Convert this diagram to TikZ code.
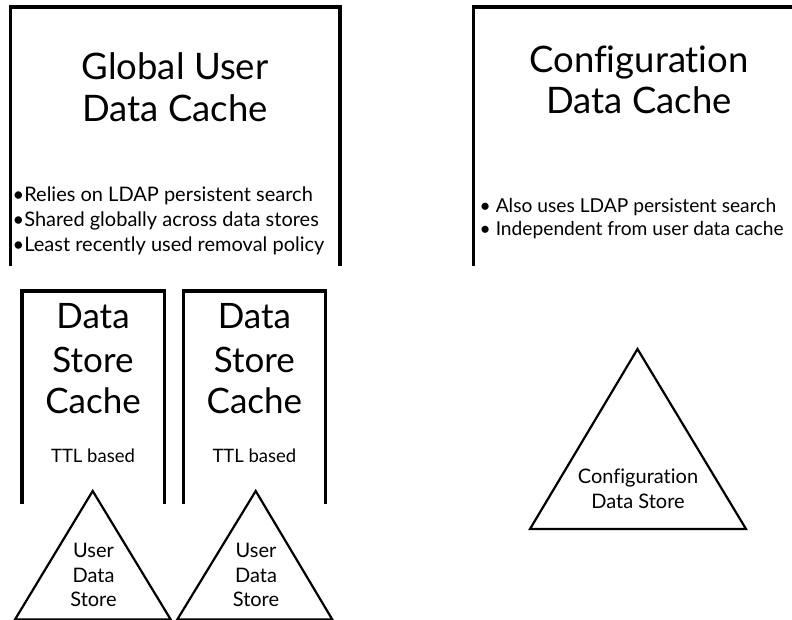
\documentclass[tikz,border=0pt]{standalone}
\usepackage{fontspec}
\setmainfont[Ligatures=NoCommon]{Lato}
\begin{document}
\begin{tikzpicture}[x=1pt,y=-1pt,
  box/.style={line width=3.6pt,line join=miter},
  tri/.style={line width=2.2pt,line join=miter},
  bigtitle/.style={font=\fontsize{36.5}{42}\selectfont,anchor=base,inner sep=0pt},
  dsc/.style={font=\fontsize{35}{43}\selectfont,anchor=base,inner sep=0pt},
  ttl/.style={font=\fontsize{18.5}{24}\selectfont,anchor=base,inner sep=0pt},
  bul/.style={font=\fontsize{20}{25}\selectfont,anchor=base west,inner sep=0pt},
  cbul/.style={bul,font=\fontsize{19.2}{25}\selectfont},
  trilabel/.style={font=\fontsize{20}{25}\selectfont,anchor=base,inner sep=0pt}]
\useasboundingbox (0,0) rectangle (792,620);
\clip (0,0) rectangle (792,620);
% Global user data cache
\draw[box] (10.5,266) -- (10.5,7) -- (340,7) -- (340,266);
\node[bigtitle] (g1) at (175,80) {Global User};
\node[bigtitle] (g2) at (175,122) {Data Cache};
\node[bul] (gb1) at (12.5,202) {•Relies on LDAP persistent search};
\node[bul] (gb2) at (12.5,227) {•Shared globally across data stores};
\node[bul] (gb3) at (12.5,252) {•Least recently used removal policy};
% Configuration data cache
\draw[box] (473.5,266) -- (473.5,7) -- (806,7) -- (806,266);
\node[bigtitle] (c1) at (639,73) {Configuration};
\node[bigtitle] (c2) at (639,114) {Data Cache};
\node[cbul] (cb1) at (479.5,212.5) {• Also uses LDAP persistent search};
\node[cbul] (cb2) at (479.5,235.5) {• Independent from user data cache};
% Data store caches
\draw[box] (21.7,504) -- (21.7,291) -- (164.3,291) -- (164.3,504);
\draw[box] (183.3,504) -- (183.3,291) -- (325.5,291) -- (325.5,504);
\foreach \cx/\n in {93/a,254.4/b}{
  \node[dsc] (d1\n) at (\cx,328) {Data};
  \node[dsc] (d2\n) at (\cx,372) {Store};
  \node[dsc] (d3\n) at (\cx,413) {Cache};
  \node[ttl] (t\n) at (\cx,462) {TTL based};
}
% User data stores
\draw[tri] (15,619.5) -- (92.7,491) -- (170.7,619.5) -- cycle;
\draw[tri] (177.3,619.5) -- (255.7,491) -- (332.3,619.5) -- cycle;
\foreach \cx/\n in {93.5/a,256/b}{
  \node[trilabel] (u1\n) at (\cx,557) {User};
  \node[trilabel] (u2\n) at (\cx,582.5) {Data};
  \node[trilabel] (u3\n) at (\cx,606.5) {Store};
}
% Configuration data store
\draw[tri] (530,529) -- (637.5,349) -- (746,529) -- cycle;
\node[trilabel] (cs1) at (638,483) {Configuration};
\node[trilabel] (cs2) at (638,508) {Data Store};
\end{tikzpicture}
\end{document}
